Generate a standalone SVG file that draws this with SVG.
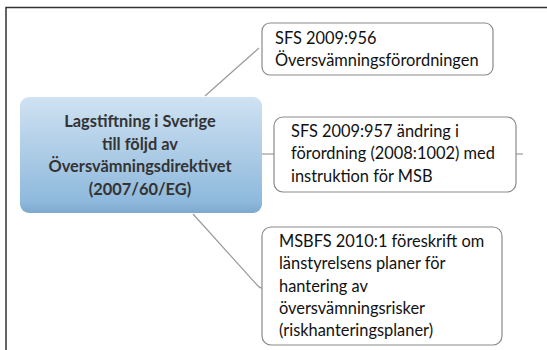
<svg xmlns="http://www.w3.org/2000/svg" width="547" height="350" viewBox="0 0 547 350">
<defs>
<linearGradient id="blue" x1="0" y1="0" x2="0" y2="1">
<stop offset="0" stop-color="#cfe2f2"/>
<stop offset="0.9" stop-color="#8fb9dc"/>
<stop offset="1" stop-color="#7fa9cc"/>
</linearGradient>
<style>
.box{fill:#ffffff;stroke:#8a8a8a;stroke-width:1.2}
.t{font-family:"Lato","Liberation Sans",sans-serif;font-size:16.4px;fill:#111111}
.c{font-family:"Lato","Liberation Sans",sans-serif;font-size:16.4px;font-weight:bold;fill:#333333;text-anchor:middle}
.conn{stroke:#9a9a9a;stroke-width:1.2;fill:none}
</style>
</defs>
<rect x="0" y="0" width="547" height="350" fill="#ffffff"/>
<path d="M6,350 V7.5 H547" fill="none" stroke="#333333" stroke-width="1.5"/>
<g id="connectors">
<line class="conn" x1="205" y1="96" x2="259" y2="48"/>
<line class="conn" x1="262" y1="154" x2="274" y2="154"/>
<path class="conn" d="M193,214 L258,286 Q260,288 262,288"/>
<line class="conn" x1="516" y1="154" x2="523" y2="154"/>
</g>
<g id="center">
<rect x="20" y="97" width="242" height="116" rx="9" fill="url(#blue)"/>
<text class="c" x="140" y="127">Lagstiftning i Sverige</text>
<text class="c" x="140" y="149.5">till följd av</text>
<text class="c" x="140" y="172">Översvämningsdirektivet</text>
<text class="c" x="140" y="194.5">(2007/60/EG)</text>
</g>
<g id="sfs956">
<rect class="box" x="262" y="23" width="231" height="52" rx="8"/>
<text class="t" x="275" y="44">SFS 2009:956</text>
<text class="t" x="275" y="66">Översvämningsförordningen</text>
</g>
<g id="sfs957">
<rect class="box" x="274" y="117" width="242" height="75" rx="9"/>
<text class="t" x="291" y="137">SFS 2009:957 ändring i</text>
<text class="t" x="291" y="159">förordning (2008:1002) med</text>
<text class="t" x="291" y="182">instruktion för MSB</text>
</g>
<g id="msbfs">
<rect class="box" x="262" y="227" width="240" height="118" rx="9"/>
<text class="t" x="279" y="247">MSBFS 2010:1 föreskrift om</text>
<text class="t" x="279" y="269">länstyrelsens planer för</text>
<text class="t" x="279" y="292">hantering av</text>
<text class="t" x="279" y="314">översvämningsrisker</text>
<text class="t" x="279" y="336">(riskhanteringsplaner)</text>
</g>
</svg>
